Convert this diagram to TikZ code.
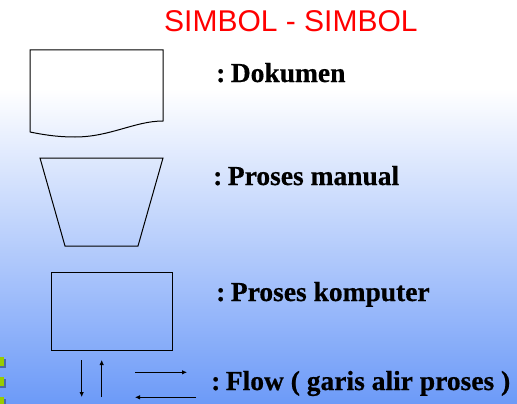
\documentclass[tikz,border=0pt]{standalone}
\usepackage{fontspec}
\setmainfont{Liberation Serif}[BoldFeatures={FakeBold=0.6}]
\newfontfamily\titlefont{Liberation Sans}
\usetikzlibrary{arrows.meta}
\definecolor{bluebot}{HTML}{6C9AF8}
\definecolor{bulletgreen}{HTML}{99CC00}
\definecolor{bulletshadow}{HTML}{4A6AA8}
\pgfdeclareverticalshading{bgshade}{100bp}{color(0bp)=(bluebot); color(25bp)=(bluebot); color(64bp)=(white); color(100bp)=(white)}
\newcommand{\colsp}{:\hspace{0.2em}}
\tikzset{
  shapeline/.style={draw=black, line width=1pt},
  flowarrow/.style={draw=black, line width=0.9pt, -{Latex[length=5pt,width=4.5pt]}},
  label/.style={anchor=base west, inner sep=0pt, font=\fontsize{27.5}{30}\selectfont\bfseries},
  bullet/.style={fill=bulletgreen, draw=none},
  bshadow/.style={fill=bulletshadow, draw=none}
}
\begin{document}
\begin{tikzpicture}[x=1pt,y=-1pt]
\useasboundingbox (0,0) rectangle (517,404);
\shade[shading=bgshade] (0,0) rectangle (517,404);
% bullets at left edge
\foreach \yy in {357,377,397}{
  \fill[bshadow] (0,\yy+1.5) rectangle (5.5,\yy+10.5);
  \fill[bullet] (0,\yy) rectangle (4,\yy+9);
}
% title
\node[anchor=base west, inner sep=0pt, text=red, font=\titlefont\fontsize{30}{34}\selectfont] (title) at (164,32) {SIMBOL - SIMBOL};
% document
\coordinate (docTL) at (30,50);
\coordinate (docTR) at (163,50);
\coordinate (docBR) at (163,121);
\coordinate (docBL) at (30,132);
\draw[shapeline] (docBL) -- (docTL) -- (docTR) -- (docBR)
  .. controls (135,121) and (110,137) .. (75,137)
  .. controls (55,137) and (40,134) .. (docBL);
\node[label] (lblDok) at (216,82) {\colsp Dokumen};
% manual process
\coordinate (manTL) at (40,158);
\coordinate (manTR) at (163,158);
\coordinate (manBR) at (138,246);
\coordinate (manBL) at (65,246);
\draw[shapeline] (manTL) -- (manTR) -- (manBR) -- (manBL) -- cycle;
\node[label] (lblMan) at (213,185) {\colsp Proses manual};
% computer process
\node[shapeline, rectangle, minimum width=121pt, minimum height=78pt, inner sep=0pt, anchor=north west] (komp) at (51,272) {};
\node[label] (lblKomp) at (216,301) {\colsp Proses komputer};
% flow arrows
\coordinate (d1) at (81.7,360);
\coordinate (d2) at (81.7,397);
\coordinate (u1) at (101.7,397);
\coordinate (u2) at (101.7,360);
\coordinate (r1) at (135,372.3);
\coordinate (r2) at (187,372.3);
\coordinate (l1) at (196,397.3);
\coordinate (l2) at (135,397.3);
\draw[flowarrow] (d1) -- (d2);
\draw[flowarrow] (u1) -- (u2);
\draw[flowarrow] (r1) -- (r2);
\draw[flowarrow] (l1) -- (l2);
\node[label] (lblFlow) at (211,390) {\colsp Flow ( garis alir proses )};
\end{tikzpicture}
\end{document}
